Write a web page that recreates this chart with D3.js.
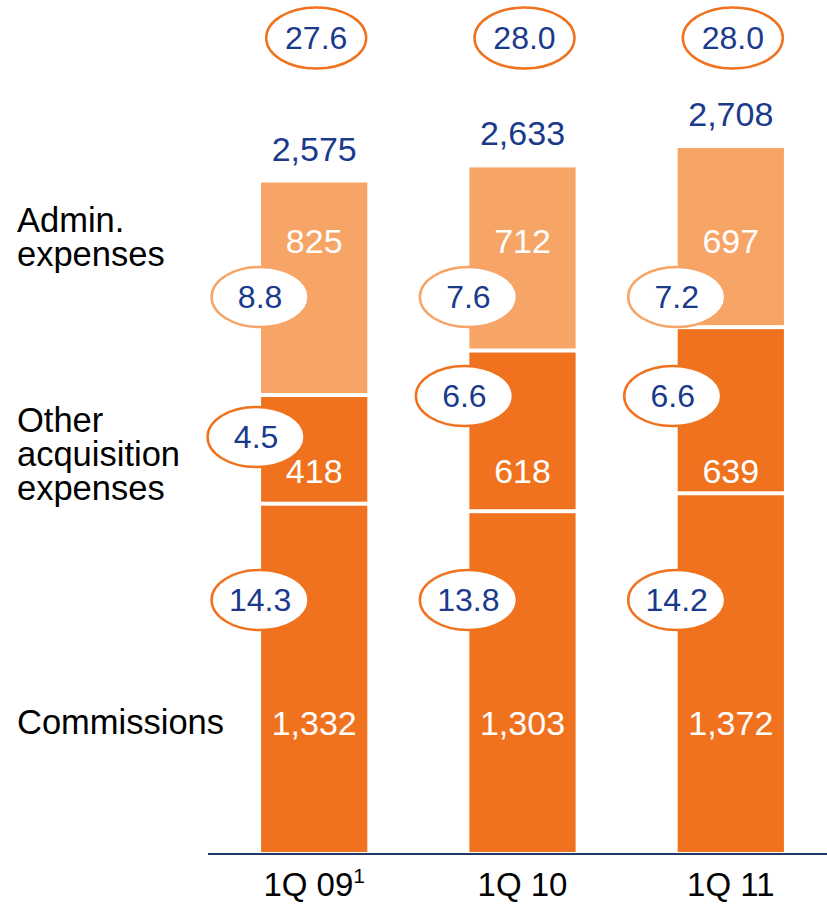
<!DOCTYPE html>
<html>
<head>
<meta charset="utf-8">
<script src="https://cdn.jsdelivr.net/npm/d3@7"></script>
<style>
  html, body { margin: 0; padding: 0; background: #fff; }
  svg { display: block; font-family: "Liberation Sans", Arial, sans-serif; }
</style>
</head>
<body>
<div id="chart"></div>
<script>
// data
const categories = ['1Q 09', '1Q 10', '1Q 11'];
const footnotes = ['1', '', ''];
const commissions = [1332, 1303, 1372];
const otherAcquisition = [418, 618, 639];
const adminExpenses = [825, 712, 697];
const totals = [2575, 2633, 2708];
const commissionsRatio = [14.3, 13.8, 14.2];
const otherRatio = [4.5, 6.6, 6.6];
const adminRatio = [8.8, 7.6, 7.2];
const totalRatio = [27.6, 28.0, 28.0];
const seriesKeys = ['commissions', 'other', 'admin'];
const seriesNames = [['Commissions'], ['Other', 'acquisition', 'expenses'], ['Admin.', 'expenses']];

const width = 827;
const height = 906;

const darkOrange = '#f0721e';
const lightOrange = '#f7a467';
const blue = '#1a3a8c';

// layout rows for labels (baselines / ellipse centres)
const valueRow = { commissions: 735, other: 483, admin: 253 };
const ratioRow = { commissions: 600, other: 396, admin: 297 };
const ratioShift = { commissions: -1, other: -5, admin: -1 };
const nameRow = { commissions: 734, other: 432, admin: 232 };

const rows = categories.map((c, i) => ({
  category: c,
  commissions: commissions[i],
  other: otherAcquisition[i],
  admin: adminExpenses[i],
}));
const ratios = { commissions: commissionsRatio, other: otherRatio, admin: adminRatio };
const colors = { commissions: darkOrange, other: darkOrange, admin: lightOrange };

const stacked = d3.stack().keys(seriesKeys)(rows);

const x = d3.scaleBand()
  .domain(categories)
  .range([209, 836])
  .paddingInner(0.49)
  .paddingOuter(0.25);

const y = d3.scaleLinear()
  .domain([0, 2600])
  .range([852, 176]);

const svg = d3.select('#chart')
  .append('svg')
  .attr('width', width)
  .attr('height', height);

const fmt = d3.format(',');
const fmtRatio = d3.format('.1f');
const gap = 4;

// stacked segments, white gap carved from the lower edge of upper segments
stacked.forEach((layer, li) => {
  svg.append('g')
    .selectAll('rect')
    .data(layer)
    .join('rect')
    .attr('x', (d) => x(d.data.category))
    .attr('width', x.bandwidth())
    .attr('y', (d) => y(d[1]))
    .attr('height', (d) => y(d[0]) - y(d[1]) - (li > 0 ? gap : 0))
    .attr('fill', colors[layer.key]);
});

// axis line
svg.append('line')
  .attr('x1', 208)
  .attr('x2', width)
  .attr('y1', 854)
  .attr('y2', 854)
  .attr('stroke', '#1f3864')
  .attr('stroke-width', 2)
  .attr('shape-rendering', 'crispEdges');

// segment values
stacked.forEach((layer) => {
  svg.append('g')
    .selectAll('text')
    .data(layer)
    .join('text')
    .attr('x', (d) => x(d.data.category) + x.bandwidth() / 2)
    .attr('y', valueRow[layer.key])
    .attr('text-anchor', 'middle')
    .attr('fill', '#fff')
    .attr('font-size', 34)
    .text((d) => fmt(d.data[layer.key]));
});

// ratio ellipses on the bar edges
stacked.forEach((layer) => {
  const g = svg.append('g')
    .selectAll('g')
    .data(layer)
    .join('g')
    .attr('transform', (d) => {
      const cx = x(d.data.category) + ratioShift[layer.key];
      const cy = Math.max(ratioRow[layer.key], y(d[1]) + 40);
      return `translate(${cx},${cy})`;
    });

  g.append('ellipse')
    .attr('rx', 48.5)
    .attr('ry', 30)
    .attr('fill', '#fff')
    .attr('stroke', colors[layer.key])
    .attr('stroke-width', 2.5);

  g.append('text')
    .attr('text-anchor', 'middle')
    .attr('dy', '0.35em')
    .attr('fill', blue)
    .attr('font-size', 32)
    .text((d, i) => fmtRatio(ratios[layer.key][i]));
});

// totals above bars
svg.append('g')
  .selectAll('text')
  .data(categories)
  .join('text')
  .attr('x', (d) => x(d) + x.bandwidth() / 2)
  .attr('y', (d, i) => y(totals[i]) - 22)
  .attr('text-anchor', 'middle')
  .attr('fill', blue)
  .attr('font-size', 34)
  .text((d, i) => fmt(totals[i]));

// total ratio ellipses
const topRatio = svg.append('g')
  .selectAll('g')
  .data(categories)
  .join('g')
  .attr('transform', (d) => `translate(${x(d) + x.bandwidth() / 2 + 2},38)`);

topRatio.append('ellipse')
  .attr('rx', 50)
  .attr('ry', 30.5)
  .attr('fill', '#fff')
  .attr('stroke', darkOrange)
  .attr('stroke-width', 2.5);

topRatio.append('text')
  .attr('text-anchor', 'middle')
  .attr('dy', '0.35em')
  .attr('fill', blue)
  .attr('font-size', 32)
  .text((d, i) => fmtRatio(totalRatio[i]));

// category labels
const cat = svg.append('g')
  .selectAll('text')
  .data(categories)
  .join('text')
  .attr('x', (d) => x(d) + x.bandwidth() / 2)
  .attr('y', 896)
  .attr('text-anchor', 'middle')
  .attr('fill', '#000')
  .attr('font-size', 33)
  .text((d) => d);

cat.append('tspan')
  .attr('dy', -13)
  .attr('font-size', 21)
  .text((d, i) => footnotes[i]);

// series names on the left
seriesKeys.forEach((key, si) => {
  svg.append('text')
    .attr('x', 17)
    .attr('y', nameRow[key])
    .attr('fill', '#000')
    .attr('font-size', 34.5)
    .selectAll('tspan')
    .data(seriesNames[si])
    .join('tspan')
    .attr('x', 17)
    .attr('dy', (d, i) => (i === 0 ? 0 : 34))
    .text((d) => d);
});
</script>
</body>
</html>
